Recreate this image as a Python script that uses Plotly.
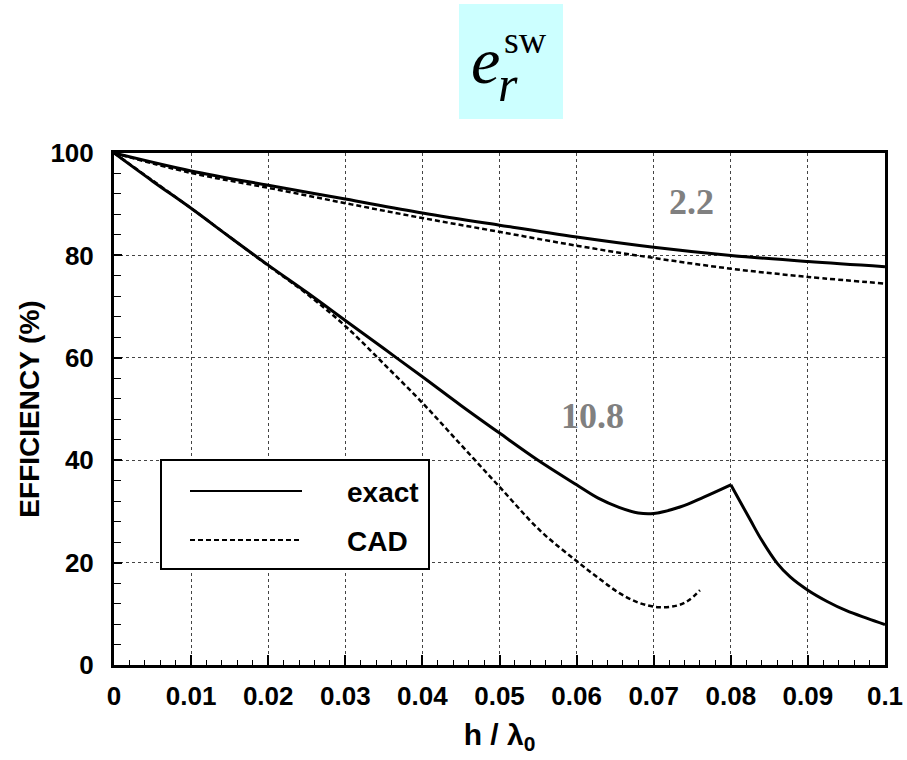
import plotly.graph_objects as go

# ---------------- data ----------------
x_exact_22 = [0, 0.01, 0.02, 0.03, 0.04, 0.05, 0.06, 0.07, 0.08, 0.09, 0.1]
y_exact_22 = [100, 96.5, 93.7, 91.0, 88.3, 85.9, 83.6, 81.6, 80.0, 78.8, 77.8]

x_cad_22 = [0, 0.01, 0.02, 0.03, 0.04, 0.05, 0.06, 0.07, 0.08, 0.09, 0.1]
y_cad_22 = [100, 96.1, 93.2, 90.2, 87.3, 84.6, 81.9, 79.5, 77.4, 75.8, 74.5]

x_exact_108 = [0, 0.005, 0.01, 0.015, 0.02, 0.025, 0.03, 0.035, 0.04, 0.045, 0.05,
               0.055, 0.06, 0.0628, 0.0655, 0.068, 0.07, 0.0735, 0.0765, 0.08,
               0.0825, 0.084, 0.086, 0.0877, 0.09, 0.0925, 0.095, 0.0977, 0.1]
y_exact_108 = [100, 94.5, 89.2, 83.6, 78.1, 72.8, 67.3, 61.8, 56.3, 50.7, 45.3,
               40.0, 35.2, 32.6, 30.8, 29.7, 29.6, 30.9, 32.8, 35.2,
               28.4, 24.4, 19.9, 17.2, 14.6, 12.4, 10.6, 9.1, 7.9]

x_cad_108 = [0, 0.01, 0.02, 0.025, 0.03, 0.035, 0.04, 0.045, 0.05, 0.0553,
             0.06, 0.063, 0.0655, 0.068, 0.0705, 0.073, 0.0745, 0.076]
y_cad_108 = [100, 89.2, 78.0, 72.5, 66.2, 58.8, 51.2, 43.0, 34.8, 26.2,
             20.3, 16.8, 14.1, 12.2, 11.3, 11.6, 12.6, 14.6]

x_tick_vals = [0, 0.01, 0.02, 0.03, 0.04, 0.05, 0.06, 0.07, 0.08, 0.09, 0.1]
x_tick_text = ["0", "0.01", "0.02", "0.03", "0.04", "0.05", "0.06", "0.07", "0.08", "0.09", "0.1"]
y_tick_vals = [0, 20, 40, 60, 80, 100]

legend_labels = ["exact", "CAD"]
curve_labels = ["2.2", "10.8"]

# ---------------- layout helpers ----------------
W, H = 907, 758
L, R, T, B = 114, 885, 153, 665   # plot area in page pixels


def px(x):
    return (x - L) / (R - L)


def py(y):
    return (B - y) / (B - T)


SANS = "Liberation Sans, Arial, sans-serif"
SERIF = "Liberation Serif, Times New Roman, serif"

fig = go.Figure()
line_solid = dict(color="black", width=3)
line_dash = dict(color="black", width=2.5, dash="5px,3px")

peak = x_exact_108.index(0.08)

fig.add_trace(go.Scatter(x=x_exact_22, y=y_exact_22, mode="lines", line=line_solid,
                         line_shape="spline", name="exact (2.2)", showlegend=False))
fig.add_trace(go.Scatter(x=x_cad_22, y=y_cad_22, mode="lines", line=line_dash,
                         line_shape="spline", name="CAD (2.2)", showlegend=False))
fig.add_trace(go.Scatter(x=x_exact_108[:peak + 1], y=y_exact_108[:peak + 1], mode="lines",
                         line=line_solid, line_shape="spline", name="exact (10.8)", showlegend=False))
fig.add_trace(go.Scatter(x=x_exact_108[peak:], y=y_exact_108[peak:], mode="lines",
                         line=line_solid, line_shape="spline", name="exact (10.8)", showlegend=False))
fig.add_trace(go.Scatter(x=x_cad_108, y=y_cad_108, mode="lines", line=line_dash,
                         line_shape="spline", name="CAD (10.8)", showlegend=False))

shapes = []
annotations = []

# title box
shapes.append(dict(type="rect", xref="paper", yref="paper",
                   x0=px(459), x1=px(563), y0=py(119), y1=py(4),
                   fillcolor="#CCFFFF", line=dict(width=0), layer="below"))
annotations.append(dict(xref="paper", yref="paper", x=px(485), y=py(60),
                        text="<i>e</i>", showarrow=False,
                        font=dict(family=SERIF, size=66, color="black"),
                        xanchor="center", yanchor="middle"))
annotations.append(dict(xref="paper", yref="paper", x=px(508), y=py(84),
                        text="<i>r</i>", showarrow=False,
                        font=dict(family=SERIF, size=50, color="black"),
                        xanchor="center", yanchor="middle"))
annotations.append(dict(xref="paper", yref="paper", x=px(525), y=py(40),
                        text="sw", showarrow=False,
                        font=dict(family=SERIF, size=38, color="black"),
                        xanchor="center", yanchor="middle"))

# curve labels
annotations.append(dict(x=0.07484, y=90.4, text="<b>" + curve_labels[0] + "</b>", showarrow=False,
                        font=dict(family=SERIF, size=36, color="#808080")))
annotations.append(dict(x=0.0620, y=48.6, text="<b>" + curve_labels[1] + "</b>", showarrow=False,
                        font=dict(family=SERIF, size=36, color="#808080")))

# custom legend
shapes.append(dict(type="rect", xref="paper", yref="paper",
                   x0=px(161), x1=px(429), y0=py(569), y1=py(460),
                   fillcolor="white", line=dict(color="black", width=2)))
shapes.append(dict(type="line", xref="paper", yref="paper",
                   x0=px(190), x1=px(302), y0=py(491), y1=py(491),
                   line=dict(color="black", width=2)))
shapes.append(dict(type="line", xref="paper", yref="paper",
                   x0=px(190), x1=px(302), y0=py(540), y1=py(540),
                   line=dict(color="black", width=2, dash="5px,3px")))
annotations.append(dict(xref="paper", yref="paper", x=px(345), y=py(492),
                        text="<b>" + legend_labels[0] + "</b>", showarrow=False,
                        xanchor="left", yanchor="middle",
                        font=dict(family=SANS, size=28, color="black")))
annotations.append(dict(xref="paper", yref="paper", x=px(345), y=py(541),
                        text="<b>" + legend_labels[1] + "</b>", showarrow=False,
                        xanchor="left", yanchor="middle",
                        font=dict(family=SANS, size=28, color="black")))

fig.update_layout(
    width=W, height=H,
    margin=dict(l=L, r=W - R, t=T, b=H - B, pad=0, autoexpand=False),
    paper_bgcolor="white", plot_bgcolor="white",
    showlegend=False,
    shapes=shapes, annotations=annotations,
    font=dict(family=SANS, color="black"),
)

fig.update_xaxes(
    range=[0, 0.1], tickvals=x_tick_vals, ticktext=x_tick_text, automargin=False,
    ticks="inside", ticklen=10, tickwidth=1.5, tickcolor="black",
    minor=dict(dtick=0.002, ticks="inside", ticklen=5, tickwidth=1, tickcolor="black", showgrid=False),
    showgrid=True, gridcolor="#444", gridwidth=1, griddash="dot",
    showline=True, linecolor="black", linewidth=3, mirror=True,
    tickfont=dict(family=SANS, size=26, color="black", weight="bold"),
    ticklabelstandoff=6,
    title=dict(text="<b>h / λ<sub>0</sub></b>", font=dict(family=SANS, size=30, color="black"), standoff=14),
    zeroline=False,
)
fig.update_yaxes(
    range=[0, 100], tickvals=y_tick_vals, automargin=False,
    ticks="inside", ticklen=8, tickwidth=1.5, tickcolor="black",
    minor=dict(dtick=4, ticks="inside", ticklen=7, tickwidth=1, tickcolor="black", showgrid=False),
    showgrid=True, gridcolor="#444", gridwidth=1, griddash="dot",
    showline=True, linecolor="black", linewidth=3, mirror=True,
    tickfont=dict(family=SANS, size=26, color="black", weight="bold"),
    ticklabelstandoff=12,
    title=dict(text="<b>EFFICIENCY (%)</b>", font=dict(family=SANS, size=28, color="black"), standoff=3),
    zeroline=False,
)

fig.write_html("out.html", config={"displayModeBar": False},
               post_script="document.body.style.margin='0';document.body.style.overflow='hidden';")
